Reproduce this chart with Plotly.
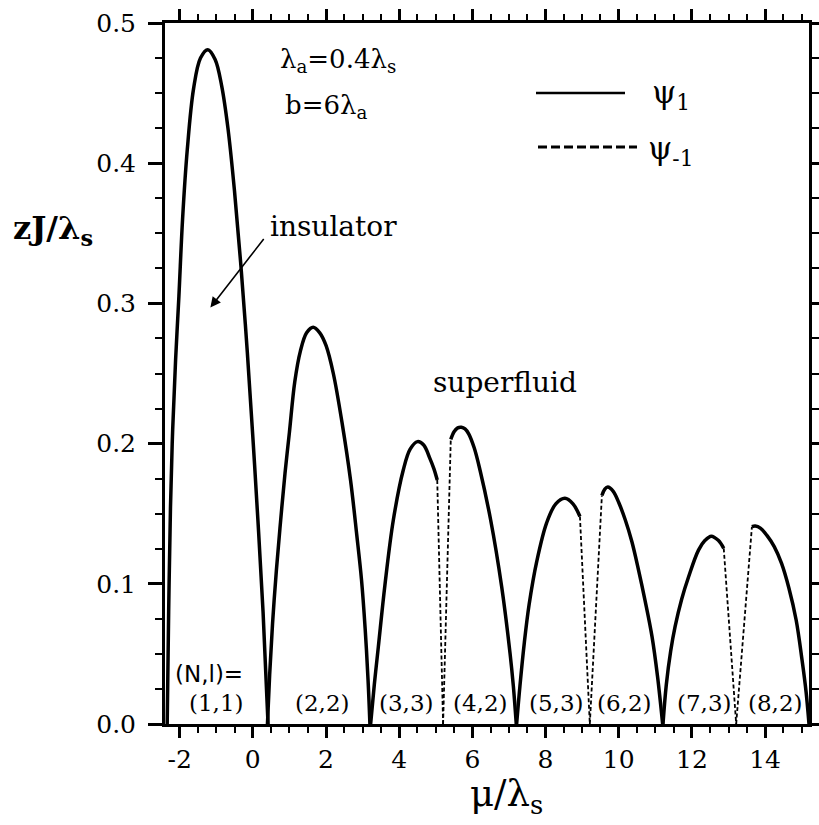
import plotly.graph_objects as go

# ---------------- data ----------------
# psi_1 (solid) lobes: mu/lambda_s and zJ/lambda_s
lobe1_mu = [-2.34, -2.30, -2.25, -2.19, -2.11, -2.02, -1.92, -1.79, -1.62, -1.43, -1.23,
            -1.03, -0.85, -0.68, -0.50, -0.32, -0.15, 0.00, 0.14, 0.28, 0.416]
lobe1_J = [0.0, 0.08, 0.155, 0.21, 0.26, 0.305, 0.36, 0.41, 0.453, 0.475, 0.481,
           0.474, 0.455, 0.425, 0.38, 0.325, 0.265, 0.205, 0.145, 0.08, 0.0]

lobe2_mu = [0.40, 0.46, 0.54, 0.645, 0.76, 0.88, 1.00, 1.146, 1.30, 1.47, 1.65,
            1.83, 2.00, 2.20, 2.45, 2.67, 2.84, 2.97, 3.07, 3.15, 3.20]
lobe2_J = [0.0, 0.035, 0.072, 0.11, 0.145, 0.179, 0.208, 0.244, 0.266, 0.279, 0.283,
           0.279, 0.27, 0.25, 0.213, 0.174, 0.135, 0.103, 0.068, 0.031, 0.0]

lobe3_mu = [3.22, 3.32, 3.43, 3.61, 3.84, 4.11, 4.30, 4.50, 4.67, 4.83, 4.95, 5.04]
lobe3_J = [0.0, 0.028, 0.055, 0.099, 0.1455, 0.181, 0.196, 0.2014, 0.199, 0.19, 0.182, 0.174]

lobe4_mu = [5.41, 5.50, 5.60, 5.70, 5.80, 5.90, 6.05, 6.21, 6.50, 6.80, 7.03, 7.12, 7.20]
lobe4_J = [0.203, 0.2085, 0.2112, 0.2116, 0.2105, 0.207, 0.197, 0.181, 0.1455, 0.098, 0.0504, 0.027, 0.0]

lobe5_mu = [7.21, 7.30, 7.42, 7.55, 7.76, 8.03, 8.28, 8.53, 8.75, 8.94]
lobe5_J = [0.0, 0.027, 0.058, 0.085, 0.116, 0.1435, 0.157, 0.161, 0.157, 0.148]

lobe6_mu = [9.54, 9.62, 9.70, 9.85, 10.00, 10.18, 10.36, 10.54, 10.72, 10.91, 11.06, 11.20]
lobe6_J = [0.163, 0.1675, 0.169, 0.166, 0.158, 0.1455, 0.13, 0.11, 0.088, 0.0623, 0.034, 0.0]

lobe7_mu = [11.21, 11.30, 11.42, 11.54, 11.72, 11.91, 12.18, 12.36, 12.53, 12.72, 12.87]
lobe7_J = [0.0, 0.028, 0.052, 0.0694, 0.089, 0.105, 0.124, 0.131, 0.134, 0.131, 0.1253]

lobe8_mu = [13.64, 13.73, 13.88, 14.05, 14.25, 14.45, 14.65, 14.85, 15.01, 15.12, 15.20]
lobe8_J = [0.1407, 0.1412, 0.1395, 0.1345, 0.1265, 0.1145, 0.097, 0.074, 0.0456, 0.023, 0.0]

# psi_-1 (dashed) pieces
dashA_mu = [5.04, 5.20]; dashA_J = [0.174, 0.0]
dashB_mu = [5.20, 5.41]; dashB_J = [0.0, 0.203]
dashC_mu = [8.94, 9.21]; dashC_J = [0.148, 0.0]
dashD_mu = [9.21, 9.54]; dashD_J = [0.0, 0.163]
dashE_mu = [12.87, 13.21]; dashE_J = [0.1253, 0.0]
dashF_mu = [13.21, 13.64]; dashF_J = [0.0, 0.1407]

# lobe labels (N,l)
lobe_labels = ["(1,1)", "(2,2)", "(3,3)", "(4,2)", "(5,3)", "(6,2)", "(7,3)", "(8,2)"]
lobe_label_mu = [-1.0, 1.91, 4.20, 6.21, 8.29, 10.15, 12.34, 14.29]
lobe_label_J = 0.015

x_tickvals = [-2, 0, 2, 4, 6, 8, 10, 12, 14]
x_ticktext = ["-2", "0", "2", "4", "6", "8", "10", "12", "14"]
y_tickvals = [0.0, 0.1, 0.2, 0.3, 0.4, 0.5]
y_ticktext = ["0.0", "0.1", "0.2", "0.3", "0.4", "0.5"]

# ---------------- figure ----------------
SERIF = "DejaVu Serif"
W, H = 819, 825
ML, MR, MT, MB = 165, 10, 23, 101
PW, PH = W - ML - MR, H - MT - MB


def px(x):
    return (x - ML) / PW


def py(y):
    return (H - MB - y) / PH


fig = go.Figure()

solid = [(lobe1_mu, lobe1_J), (lobe2_mu, lobe2_J), (lobe3_mu, lobe3_J), (lobe4_mu, lobe4_J),
         (lobe5_mu, lobe5_J), (lobe6_mu, lobe6_J), (lobe7_mu, lobe7_J), (lobe8_mu, lobe8_J)]
for m, j in solid:
    fig.add_trace(go.Scatter(x=m, y=j, mode="lines", showlegend=False, hoverinfo="skip",
                             line=dict(color="black", width=3.5, shape="spline", smoothing=1.0)))

dashed = [(dashA_mu, dashA_J), (dashB_mu, dashB_J), (dashC_mu, dashC_J),
          (dashD_mu, dashD_J), (dashE_mu, dashE_J), (dashF_mu, dashF_J)]
for m, j in dashed:
    fig.add_trace(go.Scatter(x=m, y=j, mode="lines", showlegend=False, hoverinfo="skip",
                             line=dict(color="black", width=1.8, dash="4px,2.5px")))

annotations = []
for lab, m in zip(lobe_labels, lobe_label_mu):
    annotations.append(dict(x=m, y=lobe_label_J, xref="x", yref="y", text=lab, showarrow=False,
                            font=dict(family=SERIF, size=23, color="black"),
                            xanchor="center", yanchor="middle"))

annotations += [
    dict(x=px(173), y=py(674), xref="paper", yref="paper", text="(N,l)=", showarrow=False,
         font=dict(family="DejaVu Sans", size=23, color="black"), xanchor="left", yanchor="middle"),
    dict(x=px(278), y=py(61), xref="paper", yref="paper",
         text="λ<sub>a</sub>=0.4λ<sub>s</sub>", showarrow=False,
         font=dict(family=SERIF, size=26, color="black"), xanchor="left", yanchor="middle"),
    dict(x=px(283), y=py(107), xref="paper", yref="paper",
         text="b=6λ<sub>a</sub>", showarrow=False,
         font=dict(family=SERIF, size=26, color="black"), xanchor="left", yanchor="middle"),
    dict(x=px(268), y=py(226), xref="paper", yref="paper", text="insulator", showarrow=False,
         font=dict(family=SERIF, size=28, color="black"), xanchor="left", yanchor="middle"),
    dict(x=px(431), y=py(382), xref="paper", yref="paper", text="superfluid", showarrow=False,
         font=dict(family=SERIF, size=28, color="black"), xanchor="left", yanchor="middle"),
    dict(x=px(650), y=py(95), xref="paper", yref="paper", text="ψ<sub>1</sub>", showarrow=False,
         font=dict(family=SERIF, size=31, color="black"), xanchor="left", yanchor="middle"),
    dict(x=px(646), y=py(150), xref="paper", yref="paper", text="ψ<sub>-1</sub>", showarrow=False,
         font=dict(family=SERIF, size=31, color="black"), xanchor="left", yanchor="middle"),
    dict(x=px(506), y=py(796), xref="paper", yref="paper", text="μ/λ<sub>s</sub>", showarrow=False,
         font=dict(family=SERIF, size=37, color="black"), xanchor="center", yanchor="middle"),
    dict(x=px(53), y=py(230), xref="paper", yref="paper", text="<b>zJ/λ<sub>s</sub></b>",
         showarrow=False, font=dict(family=SERIF, size=32, color="black"),
         xanchor="center", yanchor="middle"),
    # arrow insulator
    dict(x=-1.16, y=0.297, xref="x", yref="y", ax=0.33, ay=0.347, axref="x", ayref="y",
         text="", showarrow=True, arrowhead=2, arrowsize=1.3, arrowwidth=1.6, arrowcolor="black"),
]

shapes = [
    dict(type="line", xref="paper", yref="paper", x0=px(536), x1=px(625), y0=py(93), y1=py(93),
         line=dict(color="black", width=2.5)),
    dict(type="line", xref="paper", yref="paper", x0=px(538), x1=px(637), y0=py(147), y1=py(147),
         line=dict(color="black", width=3, dash="9px,4px")),
]

fig.update_layout(
    width=W, height=H,
    margin=dict(l=ML, r=MR, t=MT, b=MB, autoexpand=False),
    paper_bgcolor="white", plot_bgcolor="white",
    showlegend=False,
    annotations=annotations, shapes=shapes,
    font=dict(family=SERIF, color="black"),
    xaxis=dict(range=[-2.4, 15.2], tickmode="array", tickvals=x_tickvals, ticktext=x_ticktext,
               ticks="outside", ticklen=11, tickwidth=2.5, tickcolor="black",
               minor=dict(tickmode="linear", tick0=0, dtick=0.5, ticks="outside", ticklen=6,
                          tickwidth=2, tickcolor="black"),
               showline=True, linewidth=3, linecolor="black", mirror="ticks",
               showgrid=False, zeroline=False, automargin=False,
               tickfont=dict(family=SERIF, size=25, color="black")),
    yaxis=dict(range=[0, 0.5], tickmode="array", tickvals=y_tickvals, ticktext=y_ticktext,
               ticks="outside", ticklen=14, tickwidth=2.5, tickcolor="black",
               minor=dict(tickmode="linear", tick0=0, dtick=0.025, ticks="outside", ticklen=7,
                          tickwidth=2, tickcolor="black"),
               showline=True, linewidth=3, linecolor="black", mirror="ticks",
               showgrid=False, zeroline=False, automargin=False, ticklabelstandoff=7,
               tickfont=dict(family=SERIF, size=25, color="black")),
)

fig.write_html("out.html", config={"displayModeBar": False},
               post_script="document.body.style.margin='0';document.body.style.overflow='hidden';")
